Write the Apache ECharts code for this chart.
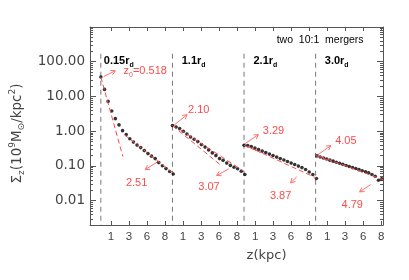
<!DOCTYPE html>
<html><head><meta charset="utf-8">
<script src="https://cdn.jsdelivr.net/npm/echarts@6/dist/echarts.min.js"></script>
<style>html,body{margin:0;padding:0;background:#fff}#c{width:409px;height:280px}</style>
</head><body><div id="c"></div>
<script>
// ---------------- data ----------------
const panelNames = ['0.15', '1.1', '2.1', '3.0'];
const panelWidth = 9; // kpc per panel
const zGrid = [0.00,0.46,0.91,1.37,1.82,2.28,2.73,3.19,3.64,4.10,4.55,5.01,5.46,5.92,6.37,6.83,7.28,7.74,8.19,8.65,9.10];
const z4 = [0.16,0.57,0.98,1.38,1.79,2.20,2.60,3.01,3.42,3.83,4.23,4.64,5.05,5.45,5.86,6.27,6.67,7.08,7.49,7.90,8.30];
const sigma1 = [36.3,16.0,7.23,3.83,2.30,1.52,1.04,0.80,0.61,0.486,0.399,0.338,0.277,0.227,0.192,0.163,0.125,0.101,0.084,0.069,0.059];
const sigma2 = [1.45,1.33,1.19,1.00,0.83,0.68,0.59,0.503,0.412,0.349,0.290,0.238,0.199,0.163,0.145,0.121,0.104,0.092,0.083,0.0707,0.057];
const sigma3 = [0.394,0.386,0.361,0.327,0.296,0.268,0.243,0.220,0.199,0.180,0.163,0.148,0.134,0.121,0.110,0.0993,0.0899,0.0788,0.0673,0.0571,0.0436];
const sigma4 = [0.195,0.1815,0.170,0.158,0.147,0.1375,0.1277,0.1197,0.1112,0.1033,0.0968,0.0899,0.0842,0.0783,0.0728,0.0681,0.0633,0.0566,0.0506,0.0388,0.0426];
// exponential fits: [z start, sigma start, z end, sigma end]
const fitInner = [[0,36.3,2.77,0.186],[0,1.45,6.2,0.10],[0,0.39,2.2,0.24],[0,0.20,2.1,0.13]];
const fitOuter = [[3.0,0.78,9.1,0.062],[1.0,1.10,9.0,0.070],[0.5,0.36,9.1,0.045],[0.5,0.19,8.5,0.040]];
const scaleInner = ['0.518','2.10','3.29','4.05'];
const scaleOuter = ['2.51','3.07','3.87','4.79'];
const mergerLabel = 'two 10:1 mergers';
const xTickLabels = ['1','3','6','8','1','3','6','8','1','3','6','8','1','3','6','8'];
const xTickPos = [1.28,3.54,5.80,8.07,10.33,12.60,14.86,17.12,19.39,21.65,23.91,26.18,28.44,30.70,32.97,35.23];
const yTickLabels = ['0.01','0.10','1.00','10.00','100.00'];

// ---------------- layout ----------------
const RED = '#ff4a4a';
const RED_L = '#ff7070';
const FONT = 'Liberation Sans, Arial, Helvetica, sans-serif';
const AFONT = 'DejaVu Sans, Liberation Sans, sans-serif';
const gx = (p, z) => p * panelWidth + z;
// arrows [panel, z1, s1, z2, s2] (tail -> head)
const arrows = [
  [0,0.37,37.8,1.82,55],[0,7.19,0.134,5.58,0.0788],
  [1,0.14,1.45,1.83,3.0],[1,7.09,0.0826,5.55,0.053],
  [2,0.14,0.44,1.81,0.80],[2,6.62,0.0486,5.86,0.0327],
  [3,0.32,0.213,1.90,0.385],[3,6.94,0.0292,5.53,0.018]
];
const panelLabelPos = [[0,0.37],[1,1.17],[2,1.19],[3,1.15]];
const panelLabelY = 107;
const innerLabelPos = [[0,2.85,55,'left'],[1,3.3,4.18,'center'],[2,3.7,1.04,'center'],[3,3.8,0.52,'center']];
const outerLabelPos = [[0,4.5,0.0327],[1,4.6,0.0251],[2,4.6,0.01346],[3,4.6,0.00778]];

const sigmas = [sigma1, sigma2, sigma3, sigma4];
const zs = [zGrid, zGrid, zGrid, z4];

const series = [];
// dashed panel separators
series.push({
  type: 'custom', xAxisIndex: 0, yAxisIndex: 0, silent: true,
  data: panelNames.map((_, p) => [gx(p, 0), 170, 0.002]),
  encode: { x: 0, y: [1, 2] },
  renderItem: (params, api) => {
    const a = api.coord([api.value(0), api.value(1)]);
    const b = api.coord([api.value(0), api.value(2)]);
    return { type: 'line', shape: { x1: a[0], y1: a[1], x2: b[0], y2: b[1] },
      style: { stroke: '#777', lineWidth: 1, lineDash: [5, 4] } };
  }
});
// fits
[fitInner, fitOuter].forEach(fits => fits.forEach((f, p) => {
  series.push({
    type: 'line', xAxisIndex: 0, yAxisIndex: 0, symbol: 'none', silent: true,
    data: [[gx(p, f[0]), f[1]], [gx(p, f[2]), f[3]]],
    lineStyle: { color: RED, width: 1, type: [5, 3] }
  });
}));
// points
sigmas.forEach((s, p) => {
  series.push({
    type: 'scatter', xAxisIndex: 0, yAxisIndex: 0, symbol: 'circle', symbolSize: 3.6,
    itemStyle: { color: '#000' }, silent: true,
    data: s.map((v, i) => [gx(p, zs[p][i]), v])
  });
});
// arrows
series.push({
  type: 'custom', xAxisIndex: 0, yAxisIndex: 0, silent: true,
  data: arrows.map(a => [gx(a[0], a[1]), a[2], gx(a[0], a[3]), a[4]]),
  encode: { x: [0, 2], y: [1, 3] },
  renderItem: (params, api) => {
    const p1 = api.coord([api.value(0), api.value(1)]);
    const p2 = api.coord([api.value(2), api.value(3)]);
    const ang = Math.atan2(p2[1] - p1[1], p2[0] - p1[0]);
    const L = 5, w = Math.PI / 6;
    const h1 = [p2[0] - L * Math.cos(ang - w), p2[1] - L * Math.sin(ang - w)];
    const h2 = [p2[0] - L * Math.cos(ang + w), p2[1] - L * Math.sin(ang + w)];
    return { type: 'group', children: [
      { type: 'line', shape: { x1: p1[0], y1: p1[1], x2: p2[0], y2: p2[1] }, style: { stroke: RED_L, lineWidth: 1 } },
      { type: 'polyline', shape: { points: [h1, p2, h2] }, style: { stroke: RED_L, fill: null, lineWidth: 1 } }
    ]};
  }
});
// texts
const texts = [];
panelLabelPos.forEach((q, p) => texts.push({ x: gx(q[0], q[1]), y: panelLabelY,
  text: '{b|' + panelNames[p] + 'r}{s|d}', align: 'left',
  rich: { b: { fontSize: 11, fontWeight: 'bold', fontFamily: FONT, fill: '#000', lineHeight: 16 },
          s: { fontSize: 7, fontWeight: 'bold', fontFamily: FONT, fill: '#000', lineHeight: 7, verticalAlign: 'bottom' } } }));
innerLabelPos.forEach((q, p) => texts.push({ x: gx(q[0], q[1]), y: q[2], align: q[3],
  text: p === 0 ? '{r|z}{s|0}{r|=' + scaleInner[p] + '}' : '{r|' + scaleInner[p] + '}',
  rich: { r: { fontSize: 11, fontFamily: FONT, fill: RED, lineHeight: 16 },
          s: { fontSize: 7, fontFamily: FONT, fill: RED, lineHeight: 7, verticalAlign: 'bottom' } } }));
outerLabelPos.forEach((q, p) => texts.push({ x: gx(q[0], q[1]), y: q[2], align: 'center',
  text: '{r|' + scaleOuter[p] + '}',
  rich: { r: { fontSize: 11, fontFamily: FONT, fill: RED, lineHeight: 16 } } }));
texts.push({ x: 33.03, y: 429, align: 'right', text: '{k|' + mergerLabel.replace(/ /g, '  ') + '}',
  rich: { k: { fontSize: 10.5, fontFamily: FONT, fill: '#000', lineHeight: 14 } } });
series.push({
  type: 'custom', xAxisIndex: 0, yAxisIndex: 0, silent: true, clip: false,
  data: texts.map((t, i) => [t.x, t.y, i]),
  encode: { x: 0, y: 1 },
  renderItem: (params, api) => {
    const t = texts[api.value(2)];
    const c = api.coord([api.value(0), api.value(1)]);
    return { type: 'text', x: c[0], y: c[1],
      style: { text: t.text, rich: t.rich, align: t.align, verticalAlign: 'middle' } };
  }
});

// minor log ticks
const minorTicks = [];
for (let n = -3; n <= 2; n++) for (let k = 2; k <= 9; k++) {
  const v = Math.log10(k) + n;
  if (v > Math.log10(0.002) && v < 3) minorTicks.push(v);
}
const AX = '#555';
const chart = echarts.init(document.getElementById('c'), null, { renderer: 'canvas' });
const yLog = (pos, show) => ({
  type: 'log', logBase: 10, min: 0.002, max: 1000, position: pos,
  axisLine: { show: true, onZero: false, lineStyle: { color: AX, width: 1 } },
  axisTick: { show: true, inside: true, length: 6, lineStyle: { color: AX } },
  splitLine: { show: false },
  axisLabel: { show: show, margin: 5, color: '#444', fontSize: 13.5, fontFamily: AFONT,
    formatter: v => { const e = Math.round(Math.log10(v));
      if (Math.abs(Math.log10(v) - e) > 1e-6 || e < -2 || e > 2) return '';
      return yTickLabels[e + 2]; } },
  showMinLabel: show, showMaxLabel: false
});
const yMinor = pos => ({
  type: 'value', min: Math.log10(0.002), max: 3, position: pos,
  axisLine: { show: false, onZero: false }, splitLine: { show: false }, axisLabel: { show: false },
  axisTick: { show: true, inside: true, length: 3, customValues: minorTicks, lineStyle: { color: AX } }
});
const xAx = (pos, show) => ({
  type: 'value', min: -1.364, max: 35.47, position: pos,
  axisLine: { show: true, onZero: false, lineStyle: { color: AX, width: 1 } },
  axisTick: { show: true, inside: true, length: 4, customValues: xTickPos, lineStyle: { color: AX } },
  splitLine: { show: false },
  axisLabel: { show: show, customValues: xTickPos, margin: 6, color: '#444', fontSize: 11.5, fontFamily: FONT,
    formatter: v => { let bi = 0, bd = 1e9; xTickPos.forEach((p, i) => { const d = Math.abs(p - v); if (d < bd) { bd = d; bi = i; } }); return xTickLabels[bi]; } }
});
const xMain = xAx('bottom', true);
xMain.name = 'z(kpc)';
xMain.nameLocation = 'middle';
xMain.nameGap = 24;
xMain.nameTextStyle = { fontSize: 13, color: '#444', fontFamily: AFONT, padding: [0, 0, 0, 60] };
const yMain = yLog('left', true);
yMain.name = '{m|Σ}{sb|z}{m|(10}{sp|9}{m|M}{sb|⊙}{m|/kpc}{sp|2}{m|)}';
yMain.nameLocation = 'middle';
yMain.nameGap = 64;
yMain.nameTextStyle = { padding: [0, 15, 0, 0], rich: {
  m: { fontSize: 13.5, color: '#444', fontFamily: AFONT, lineHeight: 18 },
  sb: { fontSize: 9, color: '#444', fontFamily: AFONT, lineHeight: 9, verticalAlign: 'bottom' },
  sp: { fontSize: 9, color: '#444', fontFamily: AFONT, lineHeight: 9, verticalAlign: 'top' } } };

chart.setOption({
  animation: false,
  backgroundColor: '#fff',
  grid: { left: 86, right: 26, top: 27, bottom: 55, containLabel: false },
  xAxis: [xMain, xAx('top', false)],
  yAxis: [yMain, yLog('right', false), yMinor('left'), yMinor('right')],
  series: series
});
</script></body></html>
